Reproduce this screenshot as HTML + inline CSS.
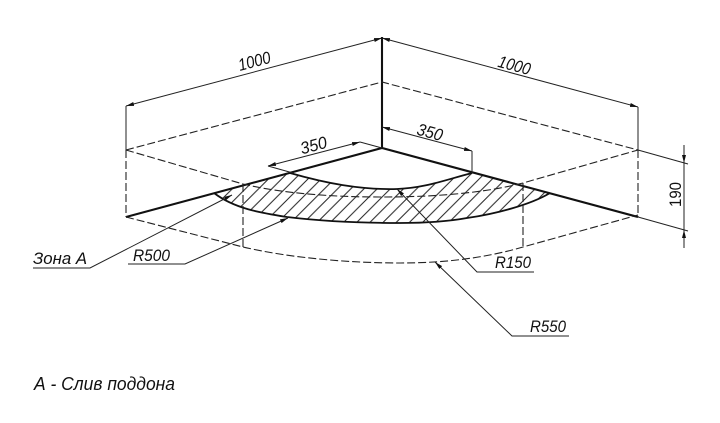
<!DOCTYPE html>
<html>
<head>
<meta charset="utf-8">
<style>
html,body{margin:0;padding:0;background:#fff;width:720px;height:423px;overflow:hidden}
svg{display:block;filter:blur(.35px)}
text{font-family:"Liberation Sans","DejaVu Sans",sans-serif;font-style:italic;fill:#111}
.b{stroke:#111;stroke-width:2.1;fill:none}
.t{stroke:#222;stroke-width:1;fill:none}
.d{stroke:#222;stroke-width:1.1;fill:none;stroke-dasharray:8 3}
.c{stroke:#111;stroke-width:1.8;fill:none}
</style>
</head>
<body>
<svg width="720" height="423" viewBox="0 0 720 423" xmlns="http://www.w3.org/2000/svg">
<defs>
<marker id="a" markerUnits="userSpaceOnUse" markerWidth="9" markerHeight="6" refX="8" refY="3" orient="auto-start-reverse">
<path d="M0 1L8 3L0 5z" fill="#111"/>
</marker>
<pattern id="h" patternUnits="userSpaceOnUse" width="13.17" height="13.17" patternTransform="translate(12.82 0)">
<path d="M-1 14.17L14.17 -1M-1 1L1 -1M12.17 14.17L14.17 12.17" stroke="#222" stroke-width="1" fill="none"/>
</pattern>
</defs>

<!-- hatch -->
<path fill="url(#h)" d="M214 193L290 173C325 183 360 190 397 189C425 188 445 180 472 173L550 193C530 205 495 214 467 218C445 222 420 223 400 223C360 223 320 221 287 217C262 213 235 209 214 193z"/>
<path class="c" d="M290 173C325 183 360 190 397 189C425 188 445 180 472 173"/>
<path class="c" d="M550 193C530 205 495 214 467 218C445 222 420 223 400 223C360 223 320 221 287 217C262 213 235 209 214 193"/>

<!-- bold edges -->
<path class="b" d="M382 37V148M126 217L382 148L638 217"/>

<!-- extension lines -->
<path class="t" d="M126 106V150M638 107V150M638 150L688 164M638 217L688 231"/>
<path class="t" d="M382 148L360 142M268 166L293 173M472 151V173"/>

<!-- dashed -->
<path class="d" d="M126 150L382 82L638 150"/>
<path class="d" d="M126 150V217M638 150V217M243 184V247M523 183V247"/>
<path class="d" d="M126 150L243 184C280 193 330 197 380 197C430 197 480 194 523 183L638 150"/>
<path class="d" d="M126 217L243 247C290 258 350 263 400 263C445 263 485 258 523 247L638 215"/>

<!-- dimensions -->
<path class="t" d="M126 106L382 38" marker-start="url(#a)" marker-end="url(#a)"/>
<path class="t" d="M382 38L638 107" marker-start="url(#a)" marker-end="url(#a)"/>
<path class="t" d="M268 166L360 142" marker-start="url(#a)" marker-end="url(#a)"/>
<path class="t" d="M382 127L472 151" marker-start="url(#a)" marker-end="url(#a)"/>
<path class="t" d="M684 145V163" marker-end="url(#a)"/>
<path class="t" d="M684 248V230" marker-end="url(#a)"/>
<path class="t" d="M684 163V230"/>

<!-- leaders -->
<path class="t" d="M33 268H90L232 195" marker-end="url(#a)"/>
<path class="t" d="M128 264H185L288 218" marker-end="url(#a)"/>
<path class="t" d="M534 272H477L397 189" marker-end="url(#a)"/>
<path class="t" d="M569 336H512L435 262" marker-end="url(#a)"/>

<!-- labels -->
<text x="238" y="67" font-size="17" textLength="33" lengthAdjust="spacingAndGlyphs" transform="rotate(-15 254 62)">1000</text>
<text x="498" y="71" font-size="17" textLength="33" lengthAdjust="spacingAndGlyphs" transform="rotate(15 514 65)">1000</text>
<text x="300" y="151" font-size="17" textLength="27" lengthAdjust="spacingAndGlyphs" transform="rotate(-15 314 145)">350</text>
<text x="417" y="138" font-size="17" textLength="26" lengthAdjust="spacingAndGlyphs" transform="rotate(15 430 132)">350</text>
<text x="662" y="200" font-size="17" textLength="25" lengthAdjust="spacingAndGlyphs" style="font-style:normal" transform="rotate(-90 675 194)">190</text>
<text x="33" y="264" font-size="17" textLength="54" lengthAdjust="spacingAndGlyphs">Зона А</text>
<text x="133" y="261" font-size="16.5" textLength="37" lengthAdjust="spacingAndGlyphs">R500</text>
<text x="495" y="268" font-size="16.5" textLength="36" lengthAdjust="spacingAndGlyphs">R150</text>
<text x="530" y="332" font-size="16.5" textLength="36" lengthAdjust="spacingAndGlyphs">R550</text>
<text x="34" y="390" font-size="18" textLength="141" lengthAdjust="spacingAndGlyphs">А - Слив поддона</text>
</svg>
</body>
</html>
